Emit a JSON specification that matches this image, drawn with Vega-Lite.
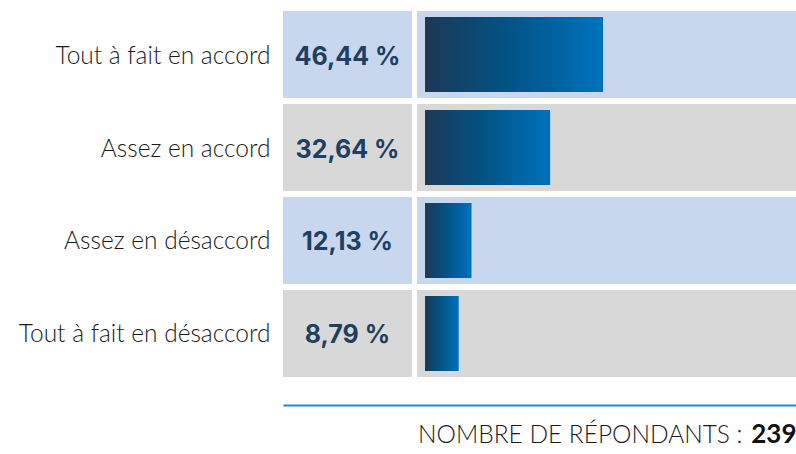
{
  "$schema": "https://vega.github.io/schema/vega-lite/v6.json",
  "autosize": {"type": "none"},
  "padding": {"left": 283, "top": 11, "right": 0, "bottom": 77},
  "width": 513,
  "height": 366,
  "background": "white",
  "data": {
    "values": [
      {"reponse": "Tout à fait en accord", "rang": 1, "pct": 46.44},
      {"reponse": "Assez en accord", "rang": 2, "pct": 32.64},
      {"reponse": "Assez en désaccord", "rang": 3, "pct": 12.13},
      {"reponse": "Tout à fait en désaccord", "rang": 4, "pct": 8.79}
    ]
  },
  "transform": [
    {"calculate": "replace(format(datum.pct, '.2f'), '.', ',') + ' %'", "as": "etiquette"}
  ],
  "encoding": {
    "y": {
      "field": "reponse",
      "type": "nominal",
      "sort": {"field": "rang", "order": "ascending"},
      "scale": {"paddingInner": 0.0645, "paddingOuter": 0},
      "axis": {
        "title": null,
        "domain": false,
        "ticks": false,
        "labelPadding": 13,
        "labelOffset": 2,
        "labelFont": "Lato",
        "labelFontWeight": 300,
        "labelFontSize": 24.5,
        "labelColor": "#1a1a1a",
        "labelLimit": 300
      }
    }
  },
  "layer": [
    {
      "mark": {"type": "bar", "cornerRadius": 0},
      "encoding": {
        "x": {
          "datum": -37.05,
          "type": "quantitative",
          "scale": {"domain": [-37.05, 96.79], "nice": false, "zero": false},
          "axis": {
            "orient": "bottom",
            "offset": 28,
            "values": [96.79],
            "labelExpr": "'239'",
            "grid": false,
            "ticks": false,
            "tickSize": 0,
            "domainColor": "#2b80c5",
            "domainWidth": 2,
            "labelAlign": "right",
            "labelBaseline": "alphabetic",
            "labelPadding": 37,
            "labelFont": "Lato",
            "labelFontWeight": "bold",
            "labelFontSize": 26,
            "labelColor": "#111111",
            "labelFlush": false,
            "labelOverlap": false,
            "title": "NOMBRE DE RÉPONDANTS :",
            "titleFont": "Lato",
            "titleFontWeight": 300,
            "titleFontSize": 24.5,
            "titleColor": "#1a1a1a",
            "titleAlign": "right",
            "titleAnchor": "end",
            "titleBaseline": "alphabetic",
            "titleX": 459,
            "titleY": 37
          }
        },
        "x2": {"datum": -3.39},
        "color": {
          "condition": {"test": "datum.rang % 2 === 1", "value": "#c8d6ee"},
          "value": "#d8d8d8"
        }
      }
    },
    {
      "mark": {"type": "bar", "cornerRadius": 0},
      "encoding": {
        "x": {"datum": -2.09, "type": "quantitative"},
        "x2": {"datum": 96.79},
        "color": {
          "condition": {"test": "datum.rang % 2 === 1", "value": "#c8d6ee"},
          "value": "#d8d8d8"
        }
      }
    },
    {
      "mark": {
        "type": "bar",
        "height": {"band": 0.864},
        "color": {
          "gradient": "linear",
          "x1": 0, "y1": 0, "x2": 1, "y2": 0,
          "stops": [
            {"offset": 0, "color": "#1d3856"},
            {"offset": 0.45, "color": "#035283"},
            {"offset": 1, "color": "#0072bd"}
          ]
        }
      },
      "encoding": {
        "x": {"field": "pct", "type": "quantitative"},
        "x2": {"datum": 0}
      }
    },
    {
      "mark": {
        "type": "text",
        "align": "center",
        "baseline": "middle",
        "dy": 2,
        "font": "Inter",
        "fontWeight": "bold",
        "fontSize": 25,
        "color": "#1e3f5f"
      },
      "encoding": {
        "x": {"datum": -20.22, "type": "quantitative"},
        "text": {"field": "etiquette"}
      }
    }
  ],
  "config": {
    "view": {"stroke": null},
    "axis": {"grid": false}
  }
}
